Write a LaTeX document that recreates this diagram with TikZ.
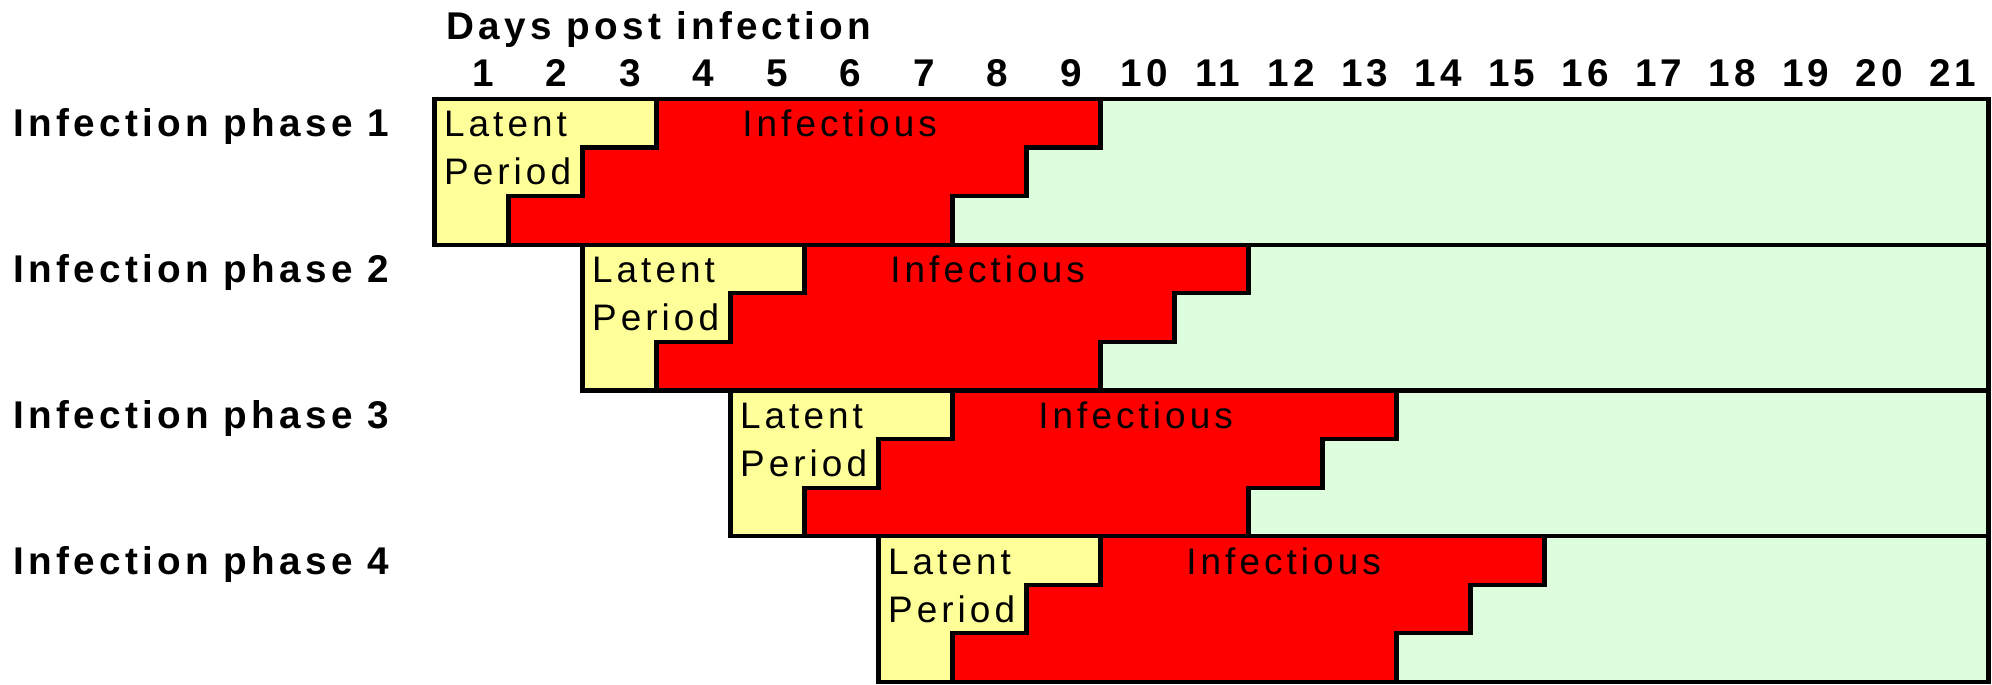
\documentclass[tikz,border=0pt]{standalone}
\usepackage{fontspec}
\setmainfont{Liberation Sans}[LetterSpace=11]

\definecolor{latentyellow}{HTML}{FFFF99}
\definecolor{infred}{HTML}{FF0000}
\definecolor{postgreen}{HTML}{DDFDDD}

\begin{document}
\begin{tikzpicture}[
  x=0.74cm, y=-0.4858cm,
  every node/.style={font=\fontsize{10.5}{12}\selectfont, inner sep=0pt},
  heading/.style={font=\fontsize{11}{13}\selectfont\bfseries, anchor=base west},
  daynum/.style={font=\fontsize{11}{13}\selectfont\bfseries, anchor=base},
  celltext/.style={anchor=base west},
  outline/.style={draw=black, line width=1.2pt, line join=miter},
  latent/.style={outline, fill=latentyellow},
  infectious/.style={outline, fill=infred},
  recovered/.style={outline, fill=postgreen}
]
\useasboundingbox (-4.345cm,0.99cm) rectangle (15.575cm,-5.85cm);

% Title and day numbers
\node[heading] (title) at (0.155,-1.215) {Days post infection};
\foreach \d in {1,...,21}
  \node[daynum] (day\d) at ({0.655+0.993*(\d-1)},-0.25) {\d};

% === PHASES (each one shifted by two days) ===
\foreach \p in {1,...,4} {
  \pgfmathsetmacro\s{2*(\p-1)}
  \pgfmathsetmacro\t{3*(\p-1)}
  % background after infection
  \draw[recovered] (\s,\t) rectangle (21,\t+3);
  % infectious steps
  \draw[infectious] (\s+3,\t) -- (\s+9,\t) -- (\s+9,\t+1) -- (\s+8,\t+1)
    -- (\s+8,\t+2) -- (\s+7,\t+2) -- (\s+7,\t+3) -- (\s+1,\t+3)
    -- (\s+1,\t+2) -- (\s+2,\t+2) -- (\s+2,\t+1) -- (\s+3,\t+1) -- cycle;
  % latent steps
  \draw[latent] (\s,\t) -- (\s+3,\t) -- (\s+3,\t+1) -- (\s+2,\t+1)
    -- (\s+2,\t+2) -- (\s+1,\t+2) -- (\s+1,\t+3) -- (\s,\t+3) -- cycle;
  % labels
  \node[heading] (phase\p) at (-5.696,\t+0.78) {Infection phase \p};
  \node[celltext] (lat\p) at (\s+0.12,\t+0.78) {Latent};
  \node[celltext] (per\p) at (\s+0.12,\t+1.77) {Period};
  \node[celltext] (inf\p) at (\s+4.15,\t+0.78) {Infectious};
}

\end{tikzpicture}
\end{document}
